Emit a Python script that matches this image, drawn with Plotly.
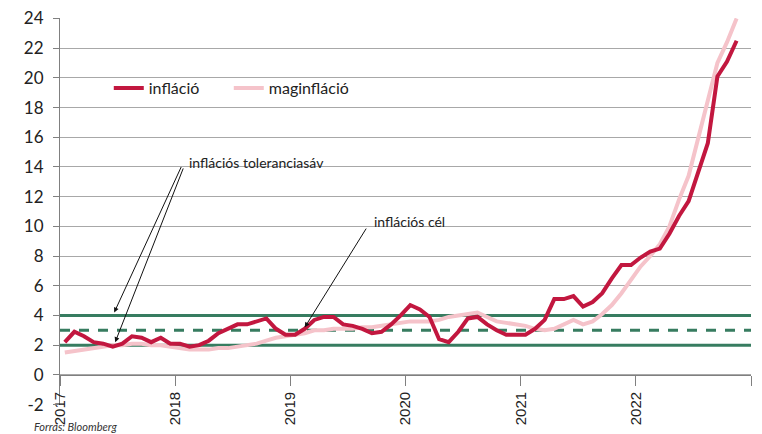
import plotly.graph_objects as go
import pandas as pd

# Monthly data, Jan 2017 - Nov 2022 (y/y %)
inflacio = [
    2.2, 2.9, 2.6, 2.2, 2.1, 1.9, 2.1, 2.6, 2.5, 2.2, 2.5, 2.1,
    2.1, 1.9, 2.0, 2.3, 2.8, 3.1, 3.4, 3.4, 3.6, 3.8, 3.1, 2.7,
    2.7, 3.1, 3.7, 3.9, 3.9, 3.4, 3.3, 3.1, 2.8, 2.9, 3.4, 4.0,
    4.7, 4.4, 3.9, 2.4, 2.2, 2.9, 3.8, 3.9, 3.4, 3.0, 2.7, 2.7,
    2.7, 3.1, 3.7, 5.1, 5.1, 5.3, 4.6, 4.9, 5.5, 6.5, 7.4, 7.4,
    7.9, 8.3, 8.5, 9.5, 10.7, 11.7, 13.7, 15.6, 20.1, 21.1, 22.5,
]
maginflacio = [
    1.5, 1.6, 1.7, 1.8, 1.9, 2.0, 2.0, 2.1, 2.1, 2.0, 2.0, 1.9,
    1.8, 1.7, 1.7, 1.7, 1.8, 1.8, 1.9, 2.0, 2.1, 2.3, 2.5, 2.6,
    2.7, 2.8, 3.0, 3.0, 3.1, 3.1, 3.1, 3.2, 3.2, 3.3, 3.4, 3.5,
    3.6, 3.6, 3.6, 3.7, 3.9, 4.0, 4.1, 4.2, 3.9, 3.6, 3.5, 3.4,
    3.3, 3.1, 3.0, 3.1, 3.4, 3.7, 3.4, 3.6, 4.1, 4.7, 5.5, 6.4,
    7.3, 8.0, 8.8, 10.0, 11.8, 13.4, 16.0, 18.6, 21.0, 22.4, 24.0,
]
months = pd.date_range("2017-01-01", periods=len(inflacio), freq="MS")
years = [2017, 2018, 2019, 2020, 2021, 2022]
y_ticks = list(range(-2, 25, 2))
tolerance_band = [2, 4]
target = 3

# month position on a category-like axis (centre of each month slot)
xpos = [(d.year - years[0]) * 12 + d.month - 1 + 0.5 for d in months]
n_slots = len(years) * 12
tickvals = [i * 12 for i in range(len(years) + 1)]
ticktext = [str(y) for y in years] + [""]

RED = "#c2173f"
PINK = "#f5c3ca"
GREEN = "#377c60"

fig = go.Figure()
for v in tolerance_band:
    fig.add_trace(go.Scatter(x=[0, n_slots], y=[v, v], mode="lines",
                             line=dict(color=GREEN, width=3), showlegend=False,
                             hoverinfo="skip"))
fig.add_trace(go.Scatter(x=[0, n_slots], y=[target, target], mode="lines",
                         line=dict(color=GREEN, width=3, dash="10px,9px"),
                         showlegend=False, hoverinfo="skip"))
fig.add_trace(go.Scatter(x=xpos, y=maginflacio, mode="lines", name="maginfláció",
                         line=dict(color=PINK, width=4), legendrank=2))
fig.add_trace(go.Scatter(x=xpos, y=inflacio, mode="lines", name="infláció",
                         line=dict(color=RED, width=4), legendrank=1))

fig.update_layout(
    width=754, height=426,
    margin=dict(l=52, r=11, t=10, b=29, autoexpand=False),
    paper_bgcolor="white", plot_bgcolor="white",
    font=dict(family="Lato, Noto Sans, sans-serif", color="#222222", size=15),
    legend=dict(orientation="h", x=0.0706, y=0.819, xanchor="left", yanchor="middle",
                font=dict(size=16, family="Lato, sans-serif", color="#222222"),
                bgcolor="rgba(0,0,0,0)", entrywidth=75, entrywidthmode="pixels",
                itemclick=False),
    xaxis=dict(range=[0, n_slots], tickvals=tickvals, ticktext=ticktext,
               tickangle=-90, anchor="free", position=2.03 / 26.06, automargin=False,
               showline=True, linecolor="#808080", linewidth=1,
               ticks="outside", ticklen=10, tickcolor="#808080",
               showgrid=False, zeroline=False,
               tickfont=dict(family="Liberation Sans, Arial, sans-serif", size=15,
                             color="#222222")),
    yaxis=dict(range=[-2.03, 24.03], tickvals=y_ticks, ticktext=[str(v) for v in y_ticks],
               showgrid=True, gridcolor="#a8a8a8", automargin=False,
               gridwidth=1, zeroline=False, showline=True, linecolor="#808080",
               ticks="outside", ticklen=6, tickcolor="#808080",
               ticklabelstandoff=6, ticklabeloverflow="allow",
               tickfont=dict(family="Lato, sans-serif", size=17, color="#222222")),
)

arrow = dict(showarrow=True, arrowhead=2, arrowsize=1, arrowwidth=1,
             arrowcolor="#111111", axref="x", ayref="y", xref="x", yref="y",
             text="", standoff=0)
fig.add_annotation(x=5.65, y=4.2, ax=12.7, ay=14.1, **arrow)
fig.add_annotation(x=5.75, y=2.2, ax=12.9, ay=14.0, **arrow)
fig.add_annotation(x=25.5, y=3.2, ax=32.0, ay=9.95, **arrow)

fig.add_annotation(x=13.2, y=14.3, xref="x", yref="y", text="inflációs toleranciasáv",
                   showarrow=False, xanchor="left", yanchor="middle",
                   font=dict(size=14, family="Lato, sans-serif", color="#222222"))
fig.add_annotation(x=32.5, y=10.3, xref="x", yref="y", text="inflációs cél",
                   showarrow=False, xanchor="left", yanchor="middle",
                   font=dict(size=14, family="Lato, sans-serif", color="#222222"))
fig.add_annotation(x=-0.04, y=-0.055, xref="paper", yref="paper",
                   text="<i>Forrás: Bloomberg</i>", showarrow=False,
                   xanchor="left", yanchor="middle",
                   font=dict(size=11, family="Lato, sans-serif", color="#333333"))

fig.write_html("out.html")
